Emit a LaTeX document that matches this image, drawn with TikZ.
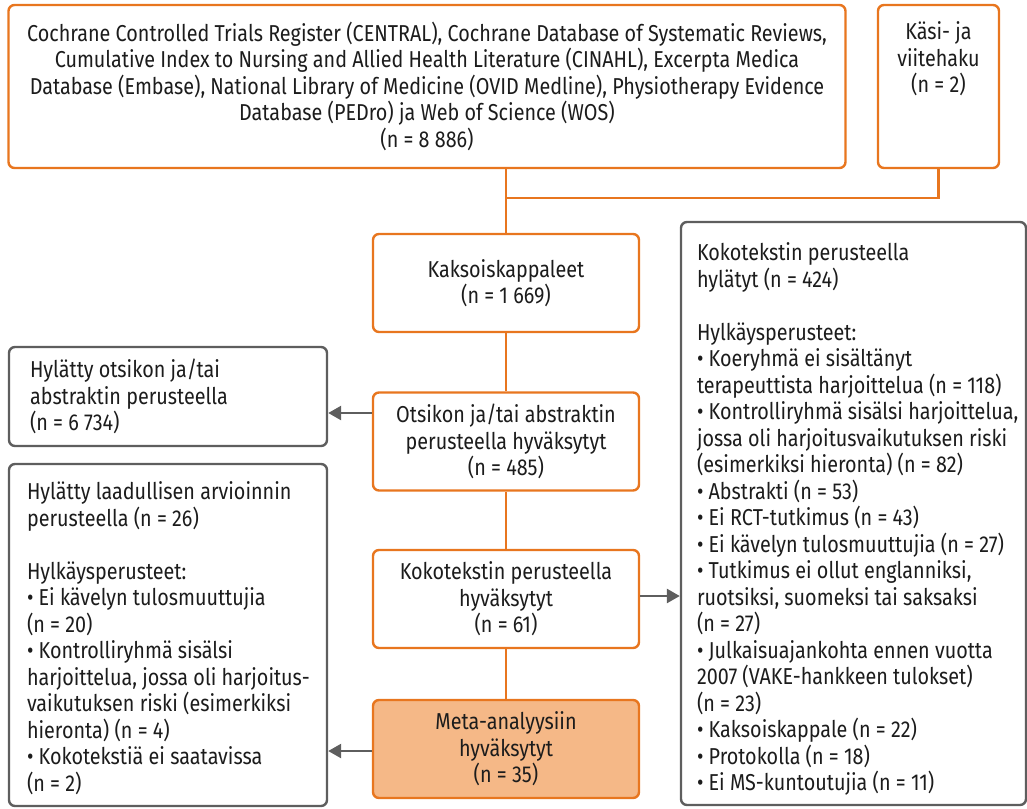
\documentclass[tikz,border=0pt]{standalone}
\usepackage{fontspec}
\setmainfont{Fira Sans}[FakeStretch=0.86]
\usepackage{xcolor}
\usetikzlibrary{arrows.meta}
\definecolor{flowor}{HTML}{E8761F}
\definecolor{metafill}{HTML}{F5B887}
\definecolor{rejgrey}{HTML}{5E5E5E}
\definecolor{ink}{HTML}{1C1C1C}
\newcommand{\topfill}[4]{\parbox[c][#1][t]{#2}{\raggedright\leftskip=#3 #4}}

\begin{document}
\begin{tikzpicture}[x=1pt,y=-1pt]
\tikzset{every node/.style={font=\fontsize{23}{26.5}\selectfont, text=ink},
  orbox/.style={draw=flowor, line width=2.4pt, rounded corners=6pt, fill=white, align=center},
  flowbox/.style={orbox, minimum width=266pt, minimum height=98pt, inner sep=0pt},
  greybox/.style={draw=rejgrey, line width=2.4pt, rounded corners=6pt, fill=white, inner sep=0pt},
  grey arrow/.style={draw=rejgrey, line width=2.6pt, -{Triangle[length=13pt,width=14pt]}},
  or line/.style={draw=flowor, line width=2.4pt}}
\useasboundingbox (0,0) rectangle (1027,808);

\node[orbox, minimum width=837pt, minimum height=163pt, inner sep=0pt] (db) at (427,86.5)
  {\parbox[c][129pt][t]{830pt}{\centering Cochrane Controlled Trials Register (CENTRAL), Cochrane Database of Systematic Reviews,\\
   Cumulative Index to Nursing and Allied Health Literature (CINAHL), Excerpta Medica\\
   Database (Embase), National Library of Medicine (OVID Medline), Physiotherapy Evidence\\
   Database (PEDro) ja Web of Science (WOS)\\
   (n = 8 886)}};
\node[orbox, minimum width=121pt, minimum height=163pt, inner sep=0pt] (kasi) at (938.5,86.5)
  {\parbox[c][129pt][t]{110pt}{\centering Käsi- ja\\viitehaku\\(n = 2)}};

\node[flowbox] (dup) at (506,283) {Kaksoiskappaleet\\(n = 1 669)};
\node[flowbox] (title) at (506,441.5) {Otsikon ja/tai abstraktin\\perusteella hyväksytyt\\(n = 485)};
\node[flowbox] (full) at (506,599) {Kokotekstin perusteella\\hyväksytyt\\(n = 61)};
\node[flowbox, fill=metafill] (meta) at (506,749) {Meta-analyysiin\\hyväksytyt\\(n = 35)};

\node[greybox, minimum width=318pt, minimum height=99pt, inner xsep=21pt, text width=276pt, align=flush left] (rejtitle) at (168,396.5)
  {Hylätty otsikon ja/tai\\abstraktin perusteella\\(n = 6 734)};
\node[greybox, minimum width=318pt, minimum height=342pt] (rejqual) at (168,635)
  {\topfill{306pt}{310pt}{14pt}{Hylätty laadullisen arvioinnin\\perusteella (n = 26)\\[26.5pt]
   Hylkäysperusteet:\\
   • Ei kävelyn tulosmuuttujia\\(n = 20)\\
   • Kontrolliryhmä sisälsi\\harjoittelua, jossa oli harjoitus-\\vaikutuksen riski (esimerkiksi\\hieronta) (n = 4)\\
   • Kokotekstiä ei saatavissa\\(n = 2)}};
\node[greybox, minimum width=345pt, minimum height=583pt] (rejfull) at (853.5,513.5)
  {\topfill{541pt}{337pt}{12pt}{Kokotekstin perusteella\\hylätyt (n = 424)\\[26.5pt]
   Hylkäysperusteet:\\
   • Koeryhmä ei sisältänyt\\terapeuttista harjoittelua (n = 118)\\
   • Kontrolliryhmä sisälsi harjoittelua,\\jossa oli harjoitusvaikutuksen riski\\(esimerkiksi hieronta) (n = 82)\\
   • Abstrakti (n = 53)\\
   • Ei RCT-tutkimus (n = 43)\\
   • Ei kävelyn tulosmuuttujia (n = 27)\\
   • Tutkimus ei ollut englanniksi,\\ruotsiksi, suomeksi tai saksaksi\\(n = 27)\\
   • Julkaisuajankohta ennen vuotta\\2007 (VAKE-hankkeen tulokset)\\(n = 23)\\
   • Kaksoiskappale (n = 22)\\
   • Protokolla (n = 18)\\
   • Ei MS-kuntoutujia (n = 11)}};

\coordinate (join) at (506,198);
\draw[or line] (join |- db.south) -- (join) -- (join -| kasi.south) -- (kasi.south);
\draw[or line] (join) -- (dup.north);
\draw[or line] (dup) -- (title);
\draw[or line] (title) -- (full);
\draw[or line] (full) -- (meta);

\draw[grey arrow] ([yshift=28.5pt]title.west) -- ([yshift=28.5pt]title.west -| rejtitle.east);
\draw[grey arrow] ([yshift=3pt]full.east) -- ([yshift=3pt]full.east -| rejfull.west);
\draw[grey arrow] ([yshift=-2pt]meta.west) -- ([yshift=-2pt]meta.west -| rejqual.east);
\end{tikzpicture}
\end{document}
